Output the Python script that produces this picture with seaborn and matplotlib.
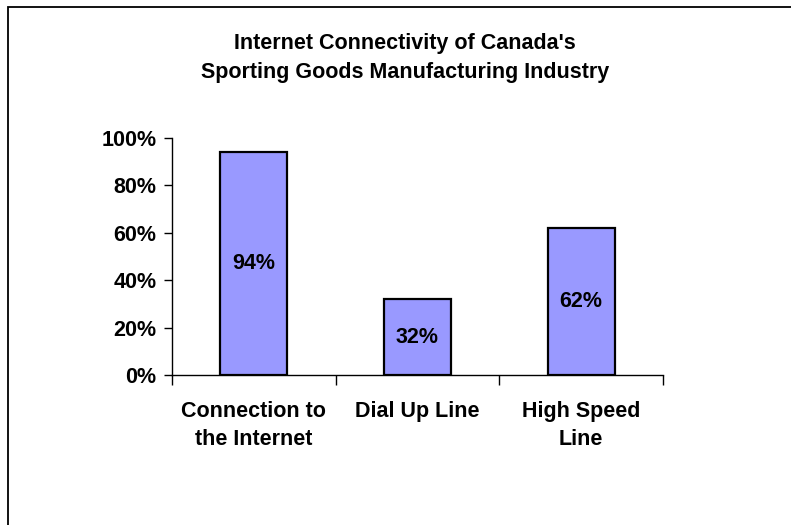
import matplotlib
matplotlib.use("Agg")
import matplotlib.pyplot as plt
from matplotlib.patches import Rectangle
import seaborn as sns
import pandas as pd

categories = ["Connection to\nthe Internet", "Dial Up Line", "High Speed\nLine"]
values = [94, 32, 62]
y_ticks = [0, 20, 40, 60, 80, 100]
title = "Internet Connectivity of Canada's\nSporting Goods Manufacturing Industry"

sns.set_style("white")
plt.rcParams["font.family"] = ["Liberation Sans", "DejaVu Sans"]
plt.rcParams["font.weight"] = "bold"
plt.rcParams["text.color"] = "black"
plt.rcParams["xtick.color"] = "black"
plt.rcParams["ytick.color"] = "black"

FS = 15.5

df = pd.DataFrame({"category": categories, "value": values})

fig = plt.figure(figsize=(7.91, 5.25), dpi=100)
ax = fig.add_axes([172 / 791, 1 - 375 / 525, (663 - 172) / 791, (375 - 138) / 525])

sns.barplot(data=df, x="category", y="value", ax=ax, color="#9999FF",
            saturation=1, width=0.41, edgecolor="black", linewidth=1.6)

ax.set_ylim(0, 100)
ax.set_xlim(-0.5, len(categories) - 0.5)
ax.set_yticks(y_ticks)
ax.set_yticklabels([f"{t}%" for t in y_ticks], fontsize=FS, fontweight="bold", color="black")
ax.set_xticks(range(len(categories)))
ax.set_xticklabels(categories, fontsize=FS, fontweight="bold", linespacing=1.4, color="black")
ax.set_xticks([i - 0.5 for i in range(len(categories) + 1)], minor=True)
ax.tick_params(axis="x", which="major", length=0, pad=19, bottom=True)
ax.tick_params(axis="x", which="minor", length=7, width=1, color="black",
               direction="out", bottom=True)
ax.tick_params(axis="y", length=6, width=1, color="black", direction="out", pad=5, left=True)
ax.set_xlabel("")
ax.set_ylabel("")
for side in ["top", "right"]:
    ax.spines[side].set_visible(False)
for side in ["left", "bottom"]:
    ax.spines[side].set_color("black")
    ax.spines[side].set_linewidth(1)

for i, v in enumerate(values):
    ax.text(i, v / 2, f"{v}%", ha="center", va="center", fontsize=FS,
            fontweight="bold", color="black")

fig.text(405 / 791, 1 - 58 / 525, title, ha="center", va="center",
         fontsize=FS, fontweight="bold", linespacing=1.55, color="black")

# Outer chart-area border (open to the right and bottom)
fig.patches.append(Rectangle((8 / 791, -0.1), 1.2, 1.1 - 7.5 / 525, transform=fig.transFigure,
                             fill=False, edgecolor="black", linewidth=1.3))

fig.savefig("out.png", dpi=100)
